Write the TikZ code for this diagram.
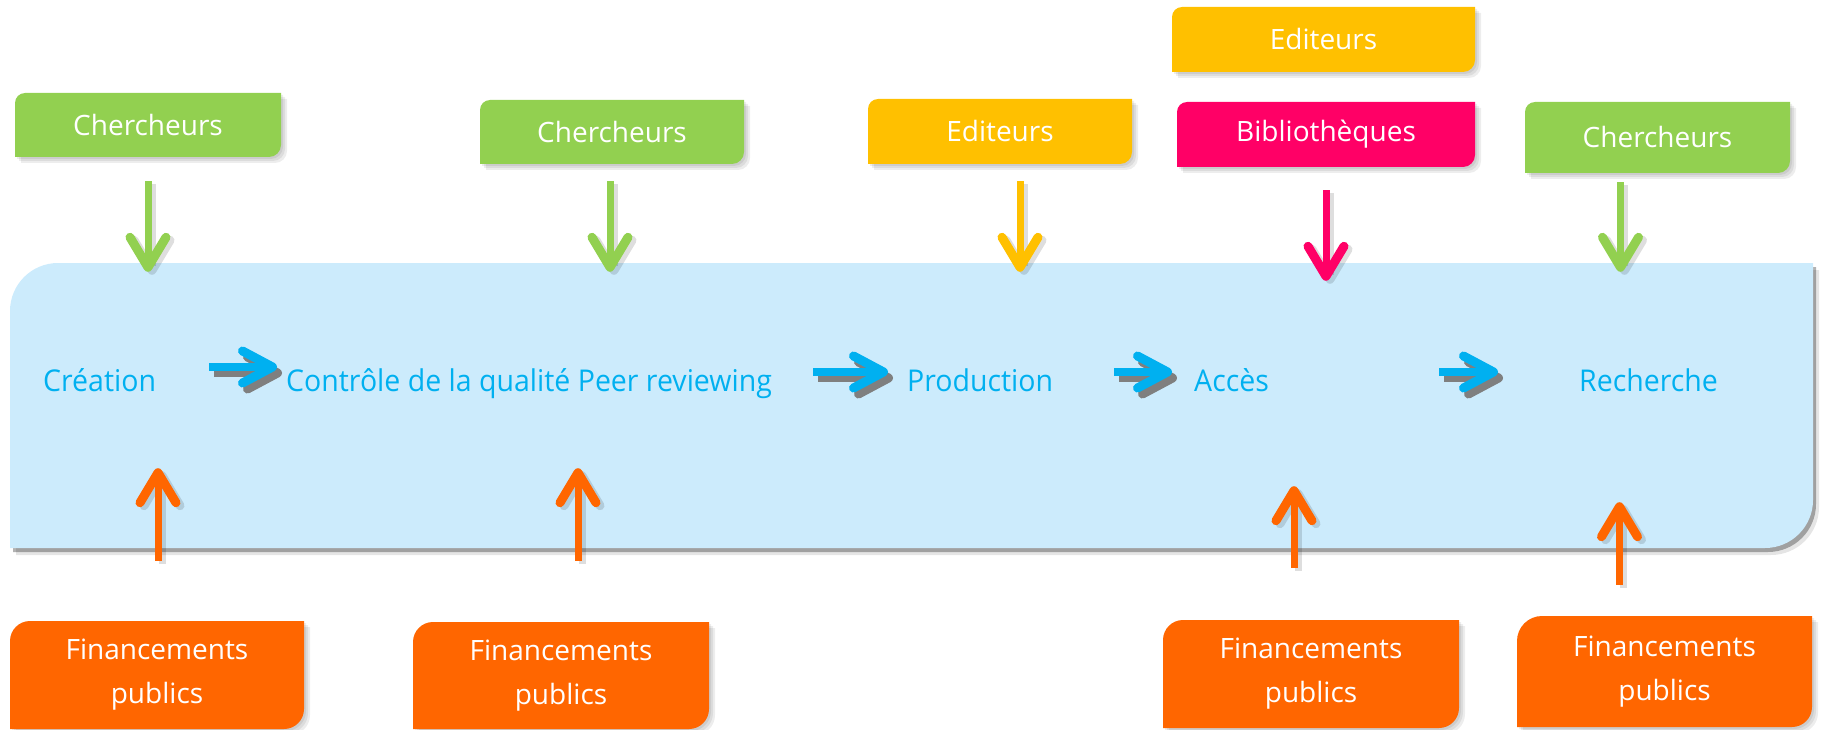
\documentclass[tikz,border=0pt]{standalone}
\usepackage{fontspec}
\setmainfont{Open Sans}
\newfontfamily\bluefont[FakeStretch=0.95]{Open Sans}
\usetikzlibrary{arrows.meta}
\definecolor{mainbg}{HTML}{CCEBFC}
\definecolor{txtblue}{HTML}{00B0F0}
\definecolor{cgreen}{HTML}{92D050}
\definecolor{cyellow}{HTML}{FFC000}
\definecolor{cpink}{HTML}{FF0066}
\definecolor{corange}{HTML}{FF6600}
\definecolor{hshadow}{HTML}{7F7F7F}
% diagonal-rounded box path: L T R B r(top-left) r(bottom-right)
\newcommand\dpath[6]{(#1,#4) -- (#1,{#2+#5}) .. controls (#1,{#2+0.448*#5}) and ({#1+0.448*#5},#2) .. ({#1+#5},#2) -- (#3,#2) -- (#3,{#4-#6}) .. controls (#3,{#4-0.448*#6}) and ({#3-0.448*#6},#4) .. ({#3-#6},#4) -- cycle}
% name L T R B r1 r2 colour text
\newcommand\dbox[9]{%
  \fill[black,opacity=.07,shift={(2,2)}] \dpath{#2}{#3}{#4}{#5}{#6}{#7};
  \fill[black,opacity=.07,shift={(4,4)}] \dpath{#2}{#3}{#4}{#5}{#6}{#7};
  \fill[black,opacity=.07,shift={(6,6)}] \dpath{#2}{#3}{#4}{#5}{#6}{#7};
  \fill[#8] \dpath{#2}{#3}{#4}{#5}{#6}{#7};
  \node[lbl,minimum width={(#4-#2)*1pt},minimum height={(#5-#3)*1pt}] (#1) at ({(#2+#4)/2},{(#3+#5)/2}) {#9};
}
\begin{document}
\begin{tikzpicture}[x=1pt,y=-1pt,
  lbl/.style={text=white,font=\fontsize{28}{44}\selectfont,inner sep=0pt,align=center},
  stage/.style={text=txtblue,font=\bluefont\fontsize{30}{36}\selectfont,inner sep=0pt,text height=22pt,text depth=0pt,anchor=base west},
  varr/.style={line width=7pt,-{Straight Barb[length=30pt,width=36pt,line width=9pt,round]}},
  vshadow/.style={varr,draw=black,opacity=.13,transform canvas={xshift=4pt,yshift=-3pt}},
  harr/.style={line width=8pt,draw=txtblue,-{Straight Barb[length=30pt,width=32pt,line width=9pt,round]}},
  hshad/.style={harr,draw=hshadow,transform canvas={xshift=5pt,yshift=-6pt}},
]
\useasboundingbox (0,0) rectangle (1823,730);

% main band
\fill[black,opacity=.30,shift={(3,4)}] \dpath{10}{263}{1813}{548}{48}{48};
\fill[black,opacity=.10,shift={(6,7)}] \dpath{10}{263}{1813}{548}{48}{48};
\fill[mainbg] \dpath{10}{263}{1813}{548}{48}{48};
\node[minimum width=1803pt,minimum height=285pt,inner sep=0pt] (main) at (911.5,405.5) {};

% top boxes
\dbox{ch1}{15}{93}{281}{157}{10}{12}{cgreen}{Chercheurs}
\dbox{ch2}{480}{100}{744}{164}{10}{12}{cgreen}{Chercheurs}
\dbox{ed1}{868}{99}{1132}{164}{10}{12}{cyellow}{Editeurs}
\dbox{ed2}{1172}{7}{1475}{72}{10}{12}{cyellow}{Editeurs}
\dbox{bib}{1177}{102}{1475}{167}{10}{12}{cpink}{Biblioth\`eques}
\dbox{ch3}{1525}{102}{1790}{173}{10}{12}{cgreen}{Chercheurs}

% bottom boxes
\dbox{fin1}{10}{621}{304}{729}{20}{20}{corange}{Financements\\publics}
\dbox{fin2}{413}{622}{709}{729}{20}{20}{corange}{Financements\\publics}
\dbox{fin3}{1163}{620}{1459}{728}{20}{20}{corange}{Financements\\publics}
\dbox{fin4}{1517}{616}{1812}{727}{25}{20}{corange}{Financements\\publics}

% stages
\node[stage] (cre) at (43,391) {Création};
\node[stage] (ctl) at (286,391) {Contrôle de la qualité Peer reviewing};
\node[stage] (prod) at (907,391) {Production};
\node[stage] (acc) at (1194,391) {Accès};
\node[stage] (rec) at (1579,391) {Recherche};

% stage arrows
\draw[hshad,shorten <=53pt,shorten >=9pt] ([yshift=13pt]cre.east) -- ([yshift=13pt]ctl.west);
\draw[harr,shorten <=53pt,shorten >=9pt] ([yshift=13pt]cre.east) -- ([yshift=13pt]ctl.west);
\draw[hshad,shorten <=41pt,shorten >=19pt] ([yshift=8pt]ctl.east) -- ([yshift=8pt]prod.west);
\draw[harr,shorten <=41pt,shorten >=19pt] ([yshift=8pt]ctl.east) -- ([yshift=8pt]prod.west);
\draw[hshad,shorten <=61pt,shorten >=22pt] ([yshift=8pt]prod.east) -- ([yshift=8pt]acc.west);
\draw[harr,shorten <=61pt,shorten >=22pt] ([yshift=8pt]prod.east) -- ([yshift=8pt]acc.west);
\draw[hshad,shorten <=170pt,shorten >=81pt] ([yshift=8pt]acc.east) -- ([yshift=8pt]rec.west);
\draw[harr,shorten <=170pt,shorten >=81pt] ([yshift=8pt]acc.east) -- ([yshift=8pt]rec.west);

% down arrows
\draw[vshadow,shorten <=24pt,shorten >=-9pt] (ch1.south) -- (ch1.south |- main.north);
\draw[varr,cgreen,shorten <=24pt,shorten >=-9pt] (ch1.south) -- (ch1.south |- main.north);
\draw[vshadow,shorten <=17pt,shorten >=-9pt] ([xshift=-2pt]ch2.south) -- ([xshift=-2pt]ch2.south |- main.north);
\draw[varr,cgreen,shorten <=17pt,shorten >=-9pt] ([xshift=-2pt]ch2.south) -- ([xshift=-2pt]ch2.south |- main.north);
\draw[vshadow,shorten <=17pt,shorten >=-9pt] ([xshift=20pt]ed1.south) -- ([xshift=20pt]ed1.south |- main.north);
\draw[varr,cyellow,shorten <=17pt,shorten >=-9pt] ([xshift=20pt]ed1.south) -- ([xshift=20pt]ed1.south |- main.north);
\draw[vshadow,shorten <=23pt,shorten >=-18pt] (bib.south) -- (bib.south |- main.north);
\draw[varr,cpink,shorten <=23pt,shorten >=-18pt] (bib.south) -- (bib.south |- main.north);
\draw[vshadow,shorten <=9pt,shorten >=-9pt] ([xshift=-37pt]ch3.south) -- ([xshift=-37pt]ch3.south |- main.north);
\draw[varr,cgreen,shorten <=9pt,shorten >=-9pt] ([xshift=-37pt]ch3.south) -- ([xshift=-37pt]ch3.south |- main.north);

% up arrows
\draw[vshadow,shorten <=60pt,shorten >=-80pt] ([xshift=1pt]fin1.north) -- ([xshift=1pt]fin1.north |- main.south);
\draw[varr,corange,shorten <=60pt,shorten >=-80pt] ([xshift=1pt]fin1.north) -- ([xshift=1pt]fin1.north |- main.south);
\draw[vshadow,shorten <=61pt,shorten >=-80pt] ([xshift=17pt]fin2.north) -- ([xshift=17pt]fin2.north |- main.south);
\draw[varr,corange,shorten <=61pt,shorten >=-80pt] ([xshift=17pt]fin2.north) -- ([xshift=17pt]fin2.north |- main.south);
\draw[vshadow,shorten <=52pt,shorten >=-62pt] ([xshift=-17pt]fin3.north) -- ([xshift=-17pt]fin3.north |- main.south);
\draw[varr,corange,shorten <=52pt,shorten >=-62pt] ([xshift=-17pt]fin3.north) -- ([xshift=-17pt]fin3.north |- main.south);
\draw[vshadow,shorten <=31pt,shorten >=-46pt] ([xshift=-45pt]fin4.north) -- ([xshift=-45pt]fin4.north |- main.south);
\draw[varr,corange,shorten <=31pt,shorten >=-46pt] ([xshift=-45pt]fin4.north) -- ([xshift=-45pt]fin4.north |- main.south);
\end{tikzpicture}
\end{document}
